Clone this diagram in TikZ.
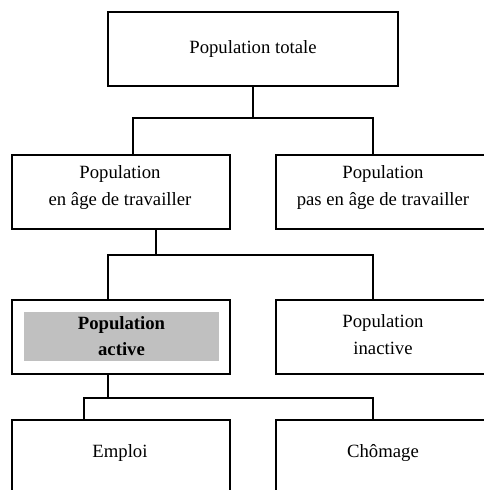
\documentclass[tikz,border=0pt]{standalone}
\usepackage{fontspec}
\setmainfont{Liberation Serif}
\begin{document}
\begin{tikzpicture}[x=1pt,y=-1pt,
  box/.style={draw, line width=1.6pt, rectangle, inner sep=2pt, align=center,
    font=\fontsize{18.7}{27}\selectfont},
  lbl/.style={inner sep=0pt, align=center, font=\fontsize{18.7}{27}\selectfont},
  greybox/.style={fill={rgb,255:red,192;green,192;blue,192}, inner sep=2pt, align=center,
    font=\fontsize{18.7}{26}\selectfont\bfseries},
  conn/.style={line width=1.6pt}]
\useasboundingbox (0,0) rectangle (483,490);
% boxes
\node[box, minimum width=290pt, minimum height=74pt] (top) at (253,49) {Population totale};
\node[box, minimum width=218pt, minimum height=74pt] (b1) at (121,192) {};
\node[lbl] (b1t) at (120,188) {Population\\en âge de travailler};
\node[box, minimum width=214pt, minimum height=74pt] (b2) at (383,192) {};
\node[lbl] (b2t) at (383,188) {Population\\pas en âge de travailler};
\node[box, minimum width=218pt, minimum height=74pt] (c1) at (121,337) {};
\node[greybox, minimum width=195pt, minimum height=49pt] (grey) at (121.5,336.5) {Population\\active};
\node[box, minimum width=214pt, minimum height=74pt] (c2) at (383,337) {};
\node[lbl] (c2t) at (383,335) {Population\\inactive};
\node[box, minimum width=218pt, minimum height=90pt] (d1) at (121,465) {};
\node[lbl] (d1t) at (120,453) {Emploi};
\node[box, minimum width=214pt, minimum height=90pt] (d2) at (383,465) {};
\node[lbl] (d2t) at (383,453) {Chômage};
% connectors
\coordinate (j1) at (253,118);
\coordinate (j2) at (156,255);
\coordinate (j3) at (108,398);
\draw[conn] (top.south) -- (j1);
\draw[conn] ([xshift=12pt]b1.north) |- (j1) -| ([xshift=-10pt]b2.north);
\draw[conn] ([xshift=35pt]b1.south) -- (j2);
\draw[conn] ([xshift=-13pt]c1.north) |- (j2) -| ([xshift=-10pt]c2.north);
\draw[conn] ([xshift=-13pt]c1.south) -- (j3);
\draw[conn] ([xshift=-37pt]d1.north) |- (j3) -| ([xshift=-10pt]d2.north);
\end{tikzpicture}
\end{document}
